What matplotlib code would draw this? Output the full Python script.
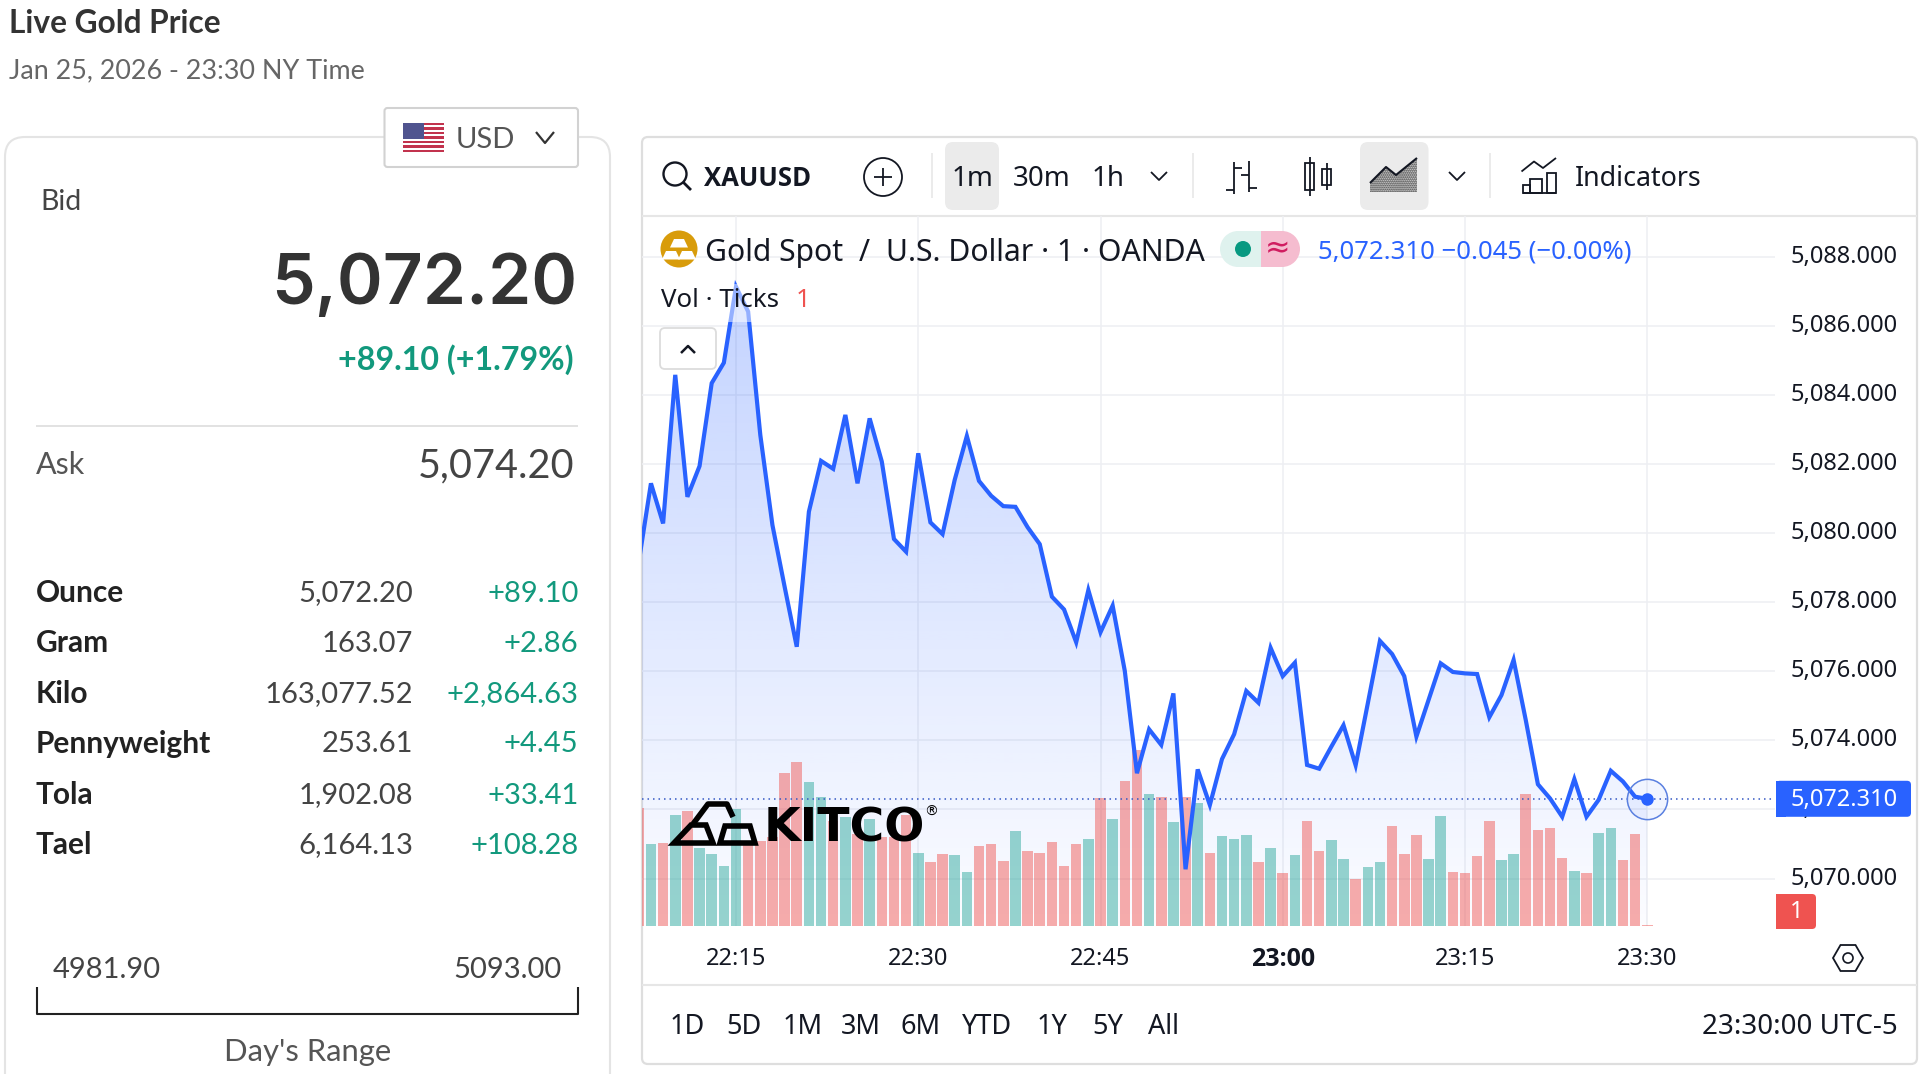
#!/usr/bin/env python3

import matplotlib
matplotlib.use("Agg")
import matplotlib.pyplot as plt
import numpy as np
from matplotlib.patches import Circle, FancyBboxPatch, Polygon, Rectangle, RegularPolygon

OUT_PATH = "out.png"
WIDTH, HEIGHT = 1920, 1074

UI_FONT = "Lato"
TV_FONT = "Noto Sans"
TV_BOLD = "Open Sans"
INK = "#131722"
GREEN = "#12997d"
BLUE = "#2962ff"
RED = "#ef5350"
TEAL = "#26a69a"
TEXT_NUDGE = 2.5  # va="center" sits a little high for these fonts

# one value per minute, 22:07 through 23:30
MINUTES = list(range(7, 91))
PRICES = [
    5079.17, 5081.44, 5080.28, 5084.58, 5081.05, 5081.94, 5084.34, 5084.93, 5087.13, 5086.41,
    5082.84, 5080.23, 5078.45, 5076.71, 5080.62, 5082.09, 5081.86, 5083.42, 5081.44, 5083.32,
    5082.07, 5079.83, 5079.46, 5082.31, 5080.31, 5079.97, 5081.54, 5082.81, 5081.51, 5081.08,
    5080.78, 5080.76, 5080.17, 5079.68, 5078.16, 5077.79, 5076.84, 5078.35, 5077.13, 5077.90,
    5076.01, 5073.05, 5074.32, 5073.87, 5075.36, 5070.27, 5073.16, 5072.13, 5073.46, 5074.18,
    5075.43, 5075.09, 5076.68, 5075.86, 5076.25, 5073.29, 5073.18, 5073.82, 5074.44, 5073.28,
    5075.07, 5076.88, 5076.50, 5075.86, 5074.11, 5075.17, 5076.23, 5075.98, 5075.94, 5075.92,
    5074.67, 5075.31, 5076.33, 5074.59, 5072.73, 5072.32, 5071.79, 5072.88, 5071.79, 5072.28,
    5073.12, 5072.81, 5072.37, 5072.31,
]
VOLUMES = [
    118, 82, 83, 111, 115, 78, 72, 60, 117, 83, 85, 89, 153, 164, 144, 129, 105, 109, 92, 107,
    89, 89, 111, 73, 64, 72, 71, 54, 80, 82, 65, 95, 75, 73, 84, 60, 82, 87, 128, 107,
    145, 176, 132, 129, 104, 129, 123, 73, 90, 87, 91, 64, 78, 53, 71, 105, 75, 86, 67, 47,
    59, 64, 100, 72, 91, 67, 110, 54, 53, 70, 105, 66, 72, 132, 96, 98, 68, 55, 53, 93,
    98, 66, 92, 1,
]
VOLUME_SIDES = (
    "rgrgrggggrrrrrggrgrgrrrgrrggrrrgrrrrrgrg"
    "rrgrgrgrgggrgrgrrggrggrrrggrrrrggrrrrgrggrrr"
)

PRICE_TICKS = list(range(5070, 5090, 2))
TIME_TICKS = [15, 30, 45, 60, 75, 90]
TIME_LABELS = ["22:15", "22:30", "22:45", "23:00", "23:15", "23:30"]

ROW_NAMES = ["Ounce", "Gram", "Kilo", "Pennyweight", "Tola", "Tael"]
ROW_VALUES = ["5,072.20", "163.07", "163,077.52", "253.61", "1,902.08", "6,164.13"]
ROW_CHANGES = ["+89.10", "+2.86", "+2,864.63", "+4.45", "+33.41", "+108.28"]
ROW_Y = [591, 641, 691.5, 742, 793, 843]

RANGE_NAMES = ["1D", "5D", "1M", "3M", "6M", "YTD", "1Y", "5Y", "All"]
RANGE_X = [687, 744, 803, 861, 921, 987, 1052, 1108, 1163]


def axes_rect(left, top, right, bottom):
    return [left / WIDTH, 1 - bottom / HEIGHT, (right - left) / WIDTH, (bottom - top) / HEIGHT]


def text(ax, x, y, s, size, color=INK, ha="left", weight="normal", family=TV_FONT, **kw):
    return ax.text(x, y + TEXT_NUDGE, s, fontsize=size, color=color, ha=ha, va="center",
                   fontweight=weight, family=family, **kw)


def round_box(ax, left, top, right, bottom, radius, face="white", edge="none", lw=0, **kw):
    box = FancyBboxPatch((left + radius, top + radius), right - left - 2 * radius,
                         bottom - top - 2 * radius,
                         boxstyle=f"round,pad={radius},rounding_size={radius}",
                         facecolor=face, edgecolor=edge, linewidth=lw, **kw)
    ax.add_patch(box)
    return box


def stroke(ax, xs, ys, color=INK, lw=1.3, **kw):
    ax.plot(xs, ys, color=color, linewidth=lw, solid_capstyle="butt", **kw)


def chevron(ax, x, y, half=8, rise=4, color=INK, lw=1.3):
    stroke(ax, [x - half, x, x + half], [y - rise, y + rise, y - rise], color=color, lw=lw)


def draw_left_panel(ax):
    text(ax, 9, 21, "Live Gold Price", 22.8, "#333333", weight="bold", family=UI_FONT)
    text(ax, 9, 68, "Jan 25, 2026 - 23:30 NY Time", 19.4, "#666666", family=UI_FONT)

    round_box(ax, 5, 137, 610, 1200, 20, edge="#e4e4e4", lw=1.5)
    round_box(ax, 384.5, 108, 578, 167, 3, edge="#d2d2d2", lw=1.5)
    draw_flag(ax, 403, 123, 444, 152)
    text(ax, 456, 138, "USD", 21, "#555555", family=UI_FONT)
    chevron(ax, 545, 137.5, half=9, rise=5.5, color="#333333", lw=1.6)

    text(ax, 40, 200, "Bid", 20.5, "#444444", family=UI_FONT)
    text(ax, 577, 283, "5,072.20", 50, "#333333", ha="right", weight="semibold", family="Inter")
    text(ax, 574, 357, "+89.10 (+1.79%)", 23.2, GREEN, ha="right", weight="bold", family=UI_FONT)

    stroke(ax, [36, 578], [426, 426], color="#e2e2e2", lw=1.4)
    text(ax, 36, 463, "Ask", 22, "#555555", family=UI_FONT)
    text(ax, 574, 463, "5,074.20", 28.5, "#444444", ha="right", family=UI_FONT)

    for name, value, change, y in zip(ROW_NAMES, ROW_VALUES, ROW_CHANGES, ROW_Y):
        text(ax, 36, y, name, 21.5, "#222222", weight="bold", family=UI_FONT)
        text(ax, 413, y, value, 21, "#444444", ha="right", family=UI_FONT)
        text(ax, 578.5, y, change, 21, GREEN, ha="right", family=UI_FONT)

    text(ax, 53, 967, "4981.90", 21, "#444444", family=UI_FONT)
    text(ax, 562, 967, "5093.00", 21, "#444444", ha="right", family=UI_FONT)
    stroke(ax, [37, 37, 578, 578], [987, 1013.5, 1013.5, 987], color="#222222", lw=1.5)
    text(ax, 307.5, 1050, "Day's Range", 22.3, "#555555", ha="center", family=UI_FONT)


def draw_flag(ax, left, top, right, bottom):
    step = (bottom - top) / 13
    for i in range(13):
        color = "#c2334d" if i % 2 == 0 else "white"
        ax.add_patch(Rectangle((left, top + i * step), right - left, step, facecolor=color))
    ax.add_patch(Rectangle((left, top), (right - left) * 0.5, 7 * step, facecolor="#50548f"))


def draw_toolbar(ax):
    round_box(ax, 642, 137, 1917, 1064, 6, edge="#dedede", lw=1.6)
    stroke(ax, [642, 1917], [216, 216], color="#e6e6e6", lw=1.5)
    stroke(ax, [642, 1917], [985, 985], color="#e6e6e6", lw=1.5)

    ax.add_patch(Circle((675, 174), 11.5, facecolor="none", edgecolor=INK, linewidth=1.7))
    stroke(ax, [683, 691], [182, 190], lw=2)
    text(ax, 704, 176.5, "XAUUSD", 18.5, weight="bold", family=TV_BOLD)

    ax.add_patch(Circle((883, 177), 19, facecolor="none", edgecolor=INK, linewidth=1.3))
    stroke(ax, [874, 892], [177, 177])
    stroke(ax, [883, 883], [168, 186])

    for x in [931.5, 1192.5, 1490]:
        stroke(ax, [x, x], [153, 198], color="#e8e8e8", lw=1.2)

    round_box(ax, 945, 142, 999, 210, 8, face="#ebebeb")
    text(ax, 972, 176.5, "1m", 20, ha="center")
    text(ax, 1042, 176.5, "30m", 20, ha="center")
    text(ax, 1108, 176.5, "1h", 20, ha="center")
    chevron(ax, 1159, 176)

    # bars icon
    stroke(ax, [1234, 1234], [162, 194])
    stroke(ax, [1226, 1234], [190, 190])
    stroke(ax, [1234, 1242], [168, 168])
    stroke(ax, [1249, 1249], [161, 192])
    stroke(ax, [1241, 1249], [175, 175])
    stroke(ax, [1249, 1257], [188, 188])

    # candles icon
    stroke(ax, [1309.5, 1309.5], [157, 196])
    ax.add_patch(Rectangle((1305, 163), 9, 27, facecolor="white", edgecolor=INK, linewidth=1.3))
    stroke(ax, [1326.5, 1326.5], [163, 190])
    ax.add_patch(Rectangle((1322, 169), 9, 16, facecolor="white", edgecolor=INK, linewidth=1.3))

    # area icon
    round_box(ax, 1360, 142, 1428.5, 210, 8, face="#ebebeb")
    ax.add_patch(Polygon([(1370, 192), (1370, 183), (1386, 167), (1396, 175), (1417, 158), (1417, 192)],
                         facecolor="none", edgecolor="#222222", hatch="........", linewidth=0))
    stroke(ax, [1370, 1386, 1396, 1417], [183, 167, 175, 158], lw=1.5)
    chevron(ax, 1457, 176)

    # indicators icon
    stroke(ax, [1521.5, 1534, 1543, 1556], [171.5, 161.5, 168, 158])
    for left, right, top in [(1523, 1530, 185), (1530, 1542, 179), (1547, 1556, 173)]:
        ax.add_patch(Rectangle((left, top), right - left, 193 - top, facecolor="none",
                               edgecolor=INK, linewidth=1.3))
    stroke(ax, [1523, 1556], [193, 193])
    text(ax, 1575, 176.5, "Indicators", 19.3)

    for name, x in zip(RANGE_NAMES, RANGE_X):
        text(ax, x, 1024, name, 19.5, ha="center")
    text(ax, 1898, 1024, "23:30:00 UTC-5", 20, ha="right")

    ax.add_patch(RegularPolygon((1848, 958), 6, radius=15, orientation=np.pi / 6, facecolor="none",
                                edgecolor=INK, linewidth=1.3))
    ax.add_patch(Circle((1848, 958), 5, facecolor="none", edgecolor=INK, linewidth=1.2))


def draw_legend(ax):
    # the chart legend washes out what sits underneath it
    ax.add_patch(Rectangle((656, 284), 136, 38, facecolor="white", alpha=0.5, edgecolor="none"))

    ax.add_patch(Circle((679, 249), 18.5, facecolor="#d89c0b", edgecolor="none"))
    for x, y in [(679, 243), (671, 255), (687, 255)]:
        ax.add_patch(Polygon([(x - 9, y + 4.5), (x - 5, y - 4), (x + 5, y - 4), (x + 9, y + 4.5)],
                             facecolor="white", edgecolor="none"))
    text(ax, 705, 250, "Gold Spot  /  U.S. Dollar · 1 · OANDA", 21.7)

    ax.add_patch(Circle((1238, 249), 18, facecolor="#dff2ee", edgecolor="none"))
    ax.add_patch(Rectangle((1238, 231), 23, 36, facecolor="#dff2ee", edgecolor="none"))
    ax.add_patch(Circle((1282, 249), 18, facecolor="#f5bccf", edgecolor="none"))
    ax.add_patch(Rectangle((1261, 231), 21, 36, facecolor="#f5bccf", edgecolor="none"))
    ax.add_patch(Circle((1243, 249), 8, facecolor="#089981", edgecolor="none"))
    text(ax, 1278, 246, "≈", 22, "#d01c60", ha="center", family="DejaVu Sans")

    text(ax, 1318, 249.5, "5,072.310 −0.045 (−0.00%)", 18.5, BLUE)
    text(ax, 661, 298, "Vol · Ticks", 18.6)
    text(ax, 803, 298, "1", 18.6, RED, ha="center")

    round_box(ax, 660, 328, 716, 369, 5, edge="#dcdcdc", lw=1.3)
    stroke(ax, [681, 688, 695], [353, 346, 353], lw=1.8)


def draw_logo(ax):
    ax.add_patch(Polygon([(674, 843), (691, 825), (706, 825), (713, 843)], facecolor="none",
                         edgecolor="black", linewidth=4, joinstyle="miter"))
    ax.add_patch(Polygon([(720, 843), (725, 826), (750, 826), (755, 843)], facecolor="none",
                         edgecolor="black", linewidth=4, joinstyle="miter"))
    stroke(ax, [693, 708, 727, 733], [824, 804, 804, 817], color="black", lw=4)
    text(ax, 764, 827, "KITCO", 34, "black", weight="bold", family="DejaVu Sans")
    text(ax, 931, 809, "®", 10, "black", ha="center", family="DejaVu Sans")


def draw_price_tags(ax, last_y):
    round_box(ax, 1776, last_y - 18, 1911, last_y + 18, 4, face=BLUE)
    ax.add_patch(Rectangle((1776, last_y - 18), 10, 36, facecolor=BLUE, edgecolor="none"))
    text(ax, 1844, last_y - 1, "5,072.310", 17, "white", ha="center")

    round_box(ax, 1776, 894, 1816, 929, 4, face=RED)
    ax.add_patch(Rectangle((1776, 894), 10, 35, facecolor=RED, edgecolor="none"))
    text(ax, 1797, 910, "1", 17, "white", ha="center")


def main():
    plt.rcParams["font.family"] = [TV_FONT, "DejaVu Sans"]
    fig = plt.figure(figsize=(WIDTH / 100, HEIGHT / 100), dpi=100, facecolor="white")

    chrome = fig.add_axes([0, 0, 1, 1], zorder=0)
    chrome.set_xlim(0, WIDTH)
    chrome.set_ylim(HEIGHT, 0)
    chrome.axis("off")
    draw_left_panel(chrome)
    draw_toolbar(chrome)

    # pane is 642..1775 by 216..926; 12.15 px a minute, 34.55 px a dollar
    ax = fig.add_axes(axes_rect(642, 216, 1775, 926), zorder=1)
    ax.patch.set_visible(False)
    ax.set_xlim(15 - 94 / 12.15, 15 + 1039 / 12.15)
    ax.set_ylim(5088 - 669.3 / 34.55, 5088 + 40.7 / 34.55)
    for spine in ax.spines.values():
        spine.set_visible(False)

    ax_vol = ax.twinx()
    ax_vol.set_zorder(2)
    ax_vol.set_ylim(0, 710)
    ax_vol.axis("off")

    ax_line = ax.twinx()
    ax_line.set_zorder(3)
    ax_line.set_ylim(ax.get_ylim())
    ax_line.axis("off")

    ax.yaxis.tick_right()
    ax.set_yticks(PRICE_TICKS)
    ax.set_yticklabels([f"{tick:,.3f}" for tick in PRICE_TICKS], va="center")
    ax.set_xticks(TIME_TICKS)
    ax.set_xticklabels(TIME_LABELS)
    ax.tick_params(axis="both", length=0, labelsize=17, labelcolor=INK)
    ax.tick_params(axis="y", pad=11)
    ax.tick_params(axis="x", pad=15)
    bold_tick = ax.get_xticklabels()[3]
    bold_tick.set_fontweight("bold")
    bold_tick.set_family(TV_BOLD)
    bold_tick.set_fontsize(18)
    ax.grid(True, color="#eeeff3", linewidth=1.1)
    ax.set_axisbelow(True)

    # area under the price, fading toward the bottom of the pane
    xlim, ylim = ax.get_xlim(), ax.get_ylim()
    fade = np.zeros((256, 1, 4))
    fade[:, :, :3] = matplotlib.colors.to_rgb(BLUE)
    fade[:, 0, 3] = np.linspace(0.28, 0.015, 256)
    top = max(PRICES)
    image = ax.imshow(fade, extent=(xlim[0], xlim[1], ylim[0], top), aspect="auto",
                      origin="upper", zorder=1.5)
    outline = [(MINUTES[0], ylim[0])] + list(zip(MINUTES, PRICES)) + [(MINUTES[-1], ylim[0])]
    image.set_clip_path(Polygon(outline, transform=ax.transData))
    ax.set_xlim(xlim)
    ax.set_ylim(ylim)

    colors = [RED if side == "r" else TEAL for side in VOLUME_SIDES]
    ax_vol.bar(MINUTES, VOLUMES, width=0.87, color=colors, alpha=0.48, linewidth=0)

    last = PRICES[-1]
    ax_line.axhline(last, color="#3558c4", linewidth=1.1, linestyle=(0, (1, 2.6)))
    ax_line.plot(MINUTES, PRICES, color=BLUE, linewidth=3.0, solid_joinstyle="miter")
    ax_line.plot(MINUTES[-1], last, "o", color=BLUE, markersize=8)
    ax_line.plot(MINUTES[-1], last, "o", markerfacecolor=BLUE + "10", markeredgecolor="#5a80e0",
                 markeredgewidth=1.1, markersize=29)

    overlay = fig.add_axes([0, 0, 1, 1], zorder=4)
    overlay.set_xlim(0, WIDTH)
    overlay.set_ylim(HEIGHT, 0)
    overlay.axis("off")
    draw_legend(overlay)
    draw_logo(overlay)
    last_y = HEIGHT - ax_line.transData.transform((0, last))[1]
    draw_price_tags(overlay, last_y)

    fig.savefig(OUT_PATH, dpi=100)
    plt.close(fig)


if __name__ == "__main__":
    main()
